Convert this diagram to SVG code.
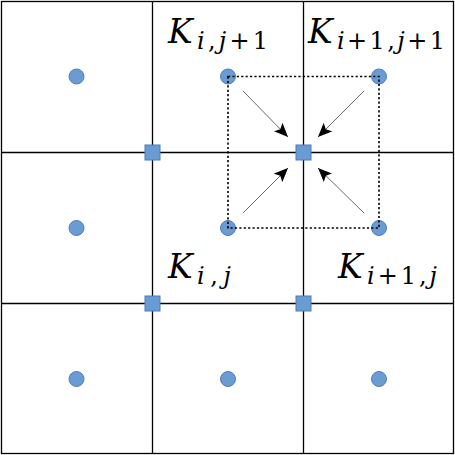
<svg xmlns="http://www.w3.org/2000/svg" width="455" height="455" viewBox="0 0 455 455">
<style>
.grid{stroke:#000;stroke-width:1.3;fill:none}
.pt{fill:#6b9bd3;stroke:#4c7dbb;stroke-width:1}
.dot{stroke:#000;stroke-width:1.6;stroke-dasharray:2.2 2.2;fill:none}
.arr{stroke:#444;stroke-width:0.8;fill:none;marker-end:url(#ah)}
.lbl{font-family:"DejaVu Serif","Liberation Serif",serif;fill:#000}
.it{font-style:italic}
</style>
<defs>
<marker id="ah" markerUnits="userSpaceOnUse" markerWidth="16" markerHeight="12" refX="14" refY="6" orient="auto">
<path d="M0,0 L14,6 L0,12 L3,6 Z" fill="#000"/>
</marker>
</defs>
<g id="grid">
<rect class="grid" x="1.5" y="1.5" width="452" height="452"/>
<line class="grid" x1="152.5" y1="1.5" x2="152.5" y2="453.5"/>
<line class="grid" x1="303.5" y1="1.5" x2="303.5" y2="453.5"/>
<line class="grid" x1="1.5" y1="152.5" x2="453.5" y2="152.5"/>
<line class="grid" x1="1.5" y1="303.5" x2="453.5" y2="303.5"/>
</g>
<g id="cells">
<circle id="c00" class="pt" cx="76.5" cy="76.5" r="7.5"/>
<circle id="c10" class="pt" cx="228" cy="76.5" r="7.5"/>
<circle id="c20" class="pt" cx="379" cy="76.5" r="7.5"/>
<circle id="c01" class="pt" cx="76.5" cy="228" r="7.5"/>
<circle id="c11" class="pt" cx="228" cy="228" r="7.5"/>
<circle id="c21" class="pt" cx="379" cy="228" r="7.5"/>
<circle id="c02" class="pt" cx="76.5" cy="379" r="7.5"/>
<circle id="c12" class="pt" cx="228" cy="379" r="7.5"/>
<circle id="c22" class="pt" cx="379" cy="379" r="7.5"/>
</g>
<g id="connectors">
<rect class="dot" x="228" y="76.5" width="151" height="151.5"/>
<line class="arr" x1="243" y1="91" x2="288" y2="137"/>
<line class="arr" x1="364" y1="91" x2="318" y2="137"/>
<line class="arr" x1="243" y1="213" x2="288" y2="168"/>
<line class="arr" x1="364" y1="213" x2="318" y2="168"/>
</g>
<g id="vertices">
<rect id="v1" class="pt" x="145" y="145" width="15" height="15"/>
<rect id="v2" class="pt" x="296" y="145" width="15" height="15"/>
<rect id="v3" class="pt" x="145" y="296" width="15" height="15"/>
<rect id="v4" class="pt" x="296" y="296" width="15" height="15"/>
</g>
<g id="labels">
<text class="lbl" x="168" y="43" font-size="33"><tspan class="it">K</tspan><tspan font-size="24" dy="6" x="197" textLength="71" lengthAdjust="spacing"><tspan class="it">i</tspan>,<tspan class="it">j</tspan>+1</tspan></text>
<text class="lbl" x="308" y="43" font-size="33"><tspan class="it">K</tspan><tspan font-size="24" dy="6" x="337" textLength="108" lengthAdjust="spacing"><tspan class="it">i</tspan>+1,<tspan class="it">j</tspan>+1</tspan></text>
<text class="lbl" x="168" y="278" font-size="33"><tspan class="it">K</tspan><tspan font-size="24" dy="6" x="197" textLength="34" lengthAdjust="spacing"><tspan class="it">i</tspan>,<tspan class="it">j</tspan></tspan></text>
<text class="lbl" x="338" y="278" font-size="33"><tspan class="it">K</tspan><tspan font-size="24" dy="6" x="367" textLength="70" lengthAdjust="spacing"><tspan class="it">i</tspan>+1,<tspan class="it">j</tspan></tspan></text>
</g>
</svg>
